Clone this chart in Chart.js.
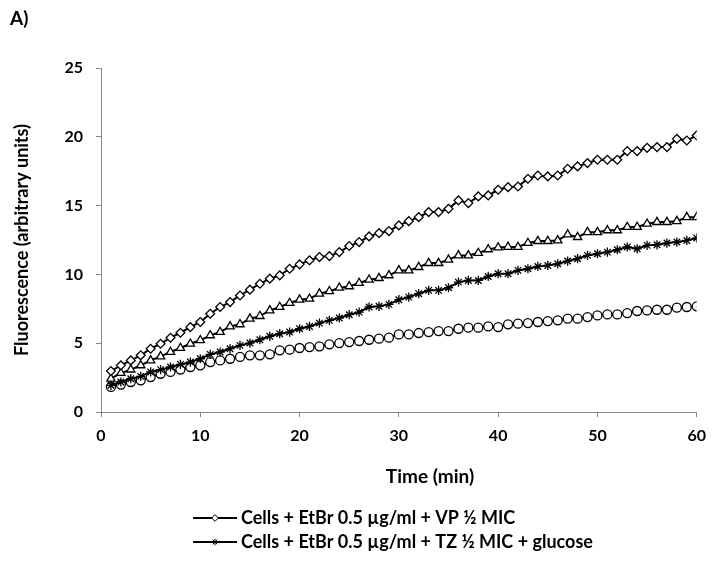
<!DOCTYPE html>
<html>
<head>
<meta charset="utf-8">
<script src="https://cdn.jsdelivr.net/npm/chart.js@4/dist/chart.umd.min.js"></script>
<style>
  html, body { margin: 0; padding: 0; background: #ffffff; }
  #wrap { position: relative; width: 715px; height: 561px; }
  canvas { display: block; }
</style>
</head>
<body>
<div id="wrap"><canvas id="c" width="715" height="561"></canvas></div>
<script>
// ---- data ----
const panelLabel = "A)";
const xTitle = "Time (min)";
const yTitle = "Fluorescence (arbitrary units)";
const times = [1,2,3,4,5,6,7,8,9,10,11,12,13,14,15,16,17,18,19,20,
               21,22,23,24,25,26,27,28,29,30,31,32,33,34,35,36,37,38,39,40,
               41,42,43,44,45,46,47,48,49,50,51,52,53,54,55,56,57,58,59,60];

const seriesVP = [2.98,3.39,3.75,4.12,4.60,4.96,5.40,5.76,6.17,6.54,
                  7.14,7.63,7.99,8.47,8.89,9.32,9.69,9.93,10.41,10.73,
                  11.02,11.26,11.33,11.62,12.06,12.35,12.76,13.00,13.15,13.56,
                  13.87,14.16,14.53,14.53,14.77,15.38,15.18,15.67,15.74,16.15,
                  16.34,16.39,16.95,17.19,17.12,17.19,17.68,17.85,18.09,18.33,
                  18.33,18.33,18.96,18.96,19.20,19.25,19.25,19.85,19.73,20.10];

const seriesTriangle = [2.42,2.83,3.08,3.39,3.75,4.04,4.36,4.65,4.96,5.21,
                        5.57,5.81,6.22,6.37,6.78,6.97,7.38,7.63,7.92,8.16,
                        8.23,8.60,8.77,9.03,9.13,9.37,9.61,9.73,9.93,10.29,
                        10.29,10.53,10.82,10.82,11.07,11.38,11.38,11.55,11.82,11.95,
                        12.00,11.99,12.28,12.42,12.42,12.47,12.90,12.71,13.07,13.07,
                        13.20,13.20,13.44,13.44,13.68,13.80,13.80,13.87,14.16,14.16];

const seriesTZglucose = [1.94,2.18,2.42,2.59,2.91,3.08,3.27,3.46,3.63,3.87,
                         4.19,4.36,4.60,4.84,5.01,5.25,5.50,5.69,5.81,6.05,
                         6.22,6.46,6.66,6.83,7.07,7.26,7.63,7.68,7.82,8.16,
                         8.35,8.60,8.84,8.84,9.03,9.44,9.56,9.56,9.85,10.05,
                         10.05,10.29,10.41,10.58,10.65,10.77,10.97,11.14,11.38,11.50,
                         11.62,11.79,11.99,11.86,12.11,12.15,12.28,12.35,12.47,12.64];

const seriesCircle = [1.82,1.99,2.18,2.30,2.54,2.78,2.91,3.08,3.27,3.39,
                      3.63,3.75,3.87,4.00,4.12,4.12,4.19,4.48,4.53,4.65,
                      4.72,4.77,4.92,5.01,5.08,5.16,5.25,5.33,5.40,5.64,
                      5.64,5.74,5.81,5.88,5.88,6.05,6.13,6.13,6.22,6.17,
                      6.37,6.42,6.46,6.54,6.61,6.66,6.78,6.78,6.90,7.02,
                      7.09,7.09,7.19,7.34,7.38,7.43,7.43,7.58,7.63,7.68];

const seriesNames = [
  "Cells + EtBr 0.5 µg/ml + VP ½ MIC",
  "Cells + EtBr 0.5 µg/ml + VP ½ MIC (triangle series)",
  "Cells + EtBr 0.5 µg/ml + TZ ½ MIC + glucose",
  "Cells + EtBr 0.5 µg/ml (circle series)"
];
const legendShown = [0, 2];
const xTicks = [0, 10, 20, 30, 40, 50, 60];
const yTicks = [0, 5, 10, 15, 20, 25];

// ---- styling ----
const FONT = "Lato";
const AXIS_GRAY = "#898989";

function pts(vals) { return times.map((t, i) => ({ x: t, y: vals[i] })); }

const styles = [
  { pointStyle: "rectRot", radius: 4.4 },
  { pointStyle: "triangle", radius: 4.8 },
  { pointStyle: "star", radius: 4.6 },
  { pointStyle: "circle", radius: 4.5 }
];
const seriesData = [seriesVP, seriesTriangle, seriesTZglucose, seriesCircle];

const datasets = seriesData.map((vals, i) => ({
  label: seriesNames[i],
  data: pts(vals),
  borderColor: "#000000",
  borderWidth: 2,
  backgroundColor: "#ffffff",
  pointStyle: styles[i].pointStyle,
  pointRadius: styles[i].radius,
  pointBorderWidth: 1.3,
  pointBorderColor: "#000000",
  pointBackgroundColor: "#ffffff",
  tension: 0,
  fill: false
}));

const extras = {
  id: "extras",
  afterDraw(chart) {
    const ctx = chart.ctx;
    ctx.save();
    ctx.fillStyle = "#000";
    ctx.textBaseline = "middle";
    // panel label
    ctx.font = "bold 19px " + FONT;
    ctx.textAlign = "left";
    ctx.fillText(panelLabel, 10, 19);
    // x axis title
    ctx.font = "bold 19px " + FONT;
    ctx.textAlign = "center";
    ctx.fillText(xTitle, 430, 477);
    // legend
    const rows = [518, 542];
    legendShown.forEach((di, r) => {
      const y = rows[r];
      const ds = chart.data.datasets[di];
      ctx.strokeStyle = "#000";
      ctx.lineWidth = 2;
      ctx.beginPath();
      ctx.moveTo(193, y);
      ctx.lineTo(237, y);
      ctx.stroke();
      ctx.fillStyle = "#fff";
      ctx.strokeStyle = "#000";
      ctx.lineWidth = 1;
      Chart.helpers.drawPoint(ctx, { pointStyle: ds.pointStyle, radius: 3.3, borderWidth: 1, rotation: 0 }, 215, y);
      ctx.fillStyle = "#000";
      ctx.font = "bold 18px " + FONT;
      ctx.textAlign = "left";
      ctx.fillText(ds.label, 241, y);
    });
    ctx.restore();
  }
};

new Chart(document.getElementById("c"), {
  type: "line",
  data: { datasets },
  plugins: [extras],
  options: {
    responsive: false,
    animation: false,
    events: [],
    layout: { padding: { left: 0, top: 68, right: 13.5, bottom: 0 } },
    plugins: {
      legend: { display: false },
      title: { display: false },
      tooltip: { enabled: false }
    },
    scales: {
      x: {
        type: "linear",
        min: 0, max: 60,
        afterBuildTicks(scale) { scale.ticks = xTicks.map(v => ({ value: v })); },
        afterFit(scale) { scale.height = 149; },
        border: { display: true, color: AXIS_GRAY, width: 1 },
        grid: { display: true, drawOnChartArea: false, drawTicks: true, tickLength: 5, color: AXIS_GRAY },
        ticks: { color: "#000", font: { family: FONT, size: 16, weight: "bold" }, padding: 9, maxRotation: 0 },
        title: { display: false }
      },
      y: {
        type: "linear",
        min: 0, max: 25,
        afterBuildTicks(scale) { scale.ticks = yTicks.map(v => ({ value: v })); },
        afterFit(scale) { scale.width = 101; },
        border: { display: true, color: AXIS_GRAY, width: 1 },
        grid: { display: true, drawOnChartArea: false, drawTicks: true, tickLength: 5, color: AXIS_GRAY },
        ticks: { color: "#000", font: { family: FONT, size: 16, weight: "bold" }, padding: 13 },
        title: {
          display: true,
          text: yTitle,
          color: "#000",
          font: { family: FONT, size: 18, weight: "bold" },
          padding: { top: 11, bottom: 0 }
        }
      }
    }
  }
});
</script>
</body>
</html>
